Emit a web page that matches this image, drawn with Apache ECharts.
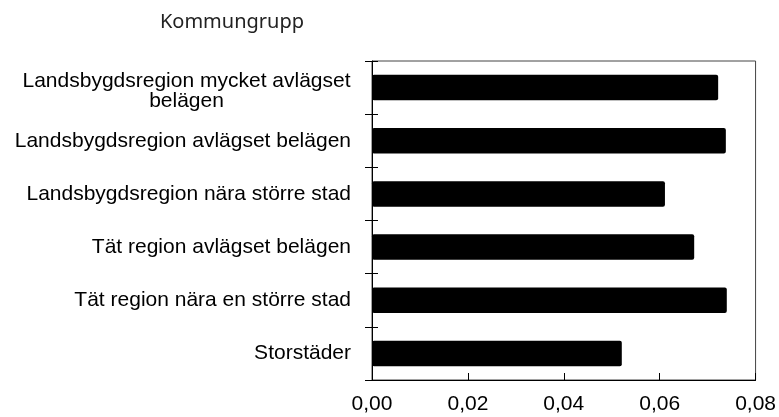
<!DOCTYPE html>
<html>
<head>
<meta charset="utf-8">
<script src="https://cdn.jsdelivr.net/npm/echarts@6/dist/echarts.min.js"></script>
<style>
  html, body { margin: 0; padding: 0; background: #fff; }
  #chart { width: 779px; height: 417px; }
</style>
</head>
<body>
<div id="chart"></div>
<script>
// kategorier uppifrån och ned
var categories = [
  'Landsbygdsregion mycket avlägset belägen',
  'Landsbygdsregion avlägset belägen',
  'Landsbygdsregion nära större stad',
  'Tät region avlägset belägen',
  'Tät region nära en större stad',
  'Storstäder'
];
var values = [0.0722, 0.0738, 0.0611, 0.0672, 0.0740, 0.0521];
var xTicks = [0, 0.02, 0.04, 0.06, 0.08];

var labelFont = '21px "Liberation Sans", Arial, sans-serif';

// bredd på första raden för att centrera den radbrutna etiketten
var ctx = document.createElement('canvas').getContext('2d');
ctx.font = labelFont;
var wrapWidth = Math.ceil(ctx.measureText('Landsbygdsregion mycket avlägset').width);

var chart = echarts.init(document.getElementById('chart'));

var option = {
  animation: false,
  title: {
    text: 'Kommungrupp',
    left: 227,
    top: 7,
    textAlign: 'center',
    textStyle: {
      fontFamily: 'Noto Sans',
      fontSize: 20,
      fontWeight: 'normal',
      color: '#222'
    }
  },
  grid: {
    left: 372,
    right: 22,
    top: 61,
    bottom: 37,
    show: true,
    borderColor: '#444',
    borderWidth: 1
  },
  xAxis: {
    type: 'value',
    min: xTicks[0],
    max: xTicks[xTicks.length - 1],
    interval: 0.02,
    axisLine: { show: true, lineStyle: { color: '#000', width: 1 } },
    axisTick: { show: true, inside: true, length: 7, lineStyle: { color: '#000' } },
    splitLine: { show: false },
    axisLabel: {
      margin: 14,
      color: '#000',
      fontFamily: '"Liberation Sans", Arial, sans-serif',
      fontSize: 21,
      formatter: function (v) { return v.toFixed(2).replace('.', ','); }
    }
  },
  yAxis: [{
    type: 'category',
    data: categories,
    inverse: true,
    axisLine: { show: true, lineStyle: { color: '#000', width: 1 } },
    axisTick: { show: true, length: 7, lineStyle: { color: '#000' } },
    axisLabel: {
      margin: 21,
      color: '#000',
      fontFamily: '"Liberation Sans", Arial, sans-serif',
      fontSize: 21,
      formatter: function (v) {
        if (v === categories[0]) {
          return '{s|}\n{c|Landsbygdsregion mycket avlägset}\n{c|belägen}';
        }
        return v;
      },
      rich: {
        s: { height: 7, lineHeight: 7, fontSize: 1 },
        c: {
          width: wrapWidth,
          align: 'center',
          color: '#000',
          fontFamily: '"Liberation Sans", Arial, sans-serif',
          fontSize: 21,
          lineHeight: 20
        }
      }
    }
  }, {
    type: 'category',
    data: categories,
    inverse: true,
    position: 'left',
    axisLine: { show: false },
    axisTick: { show: true, inside: true, length: 6, lineStyle: { color: '#000' } },
    axisLabel: { show: false }
  }],
  series: [{
    type: 'bar',
    data: values,
    barCategoryGap: '52%',
    itemStyle: { color: '#000', borderRadius: 2 }
  }]
};

chart.setOption(option);
</script>
</body>
</html>
